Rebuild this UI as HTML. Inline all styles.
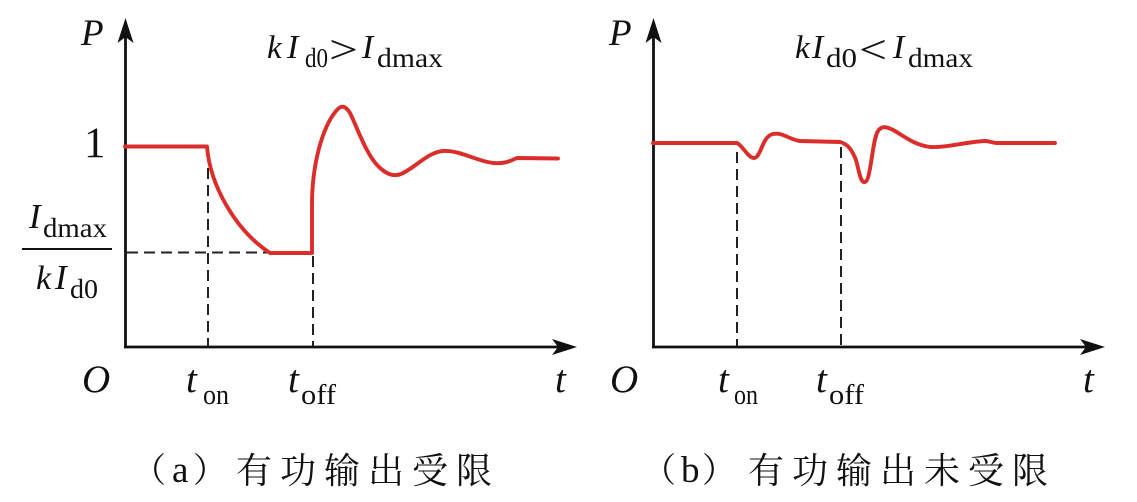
<!DOCTYPE html>
<html>
<head>
<meta charset="utf-8">
<style>
html,body{margin:0;padding:0;background:#fff;}
svg{display:block;}
.it{font-family:"Liberation Serif",serif;font-style:italic;fill:#111;}
.rm{font-family:"Liberation Serif",serif;fill:#111;}
.cj{font-family:"Noto Serif CJK SC","Noto Sans CJK SC",serif;fill:#111;}
</style>
</head>
<body>
<svg width="1137" height="502" viewBox="0 0 1137 502" xmlns="http://www.w3.org/2000/svg">
<rect width="1137" height="502" fill="#fff"/>

<!-- ============ LEFT PANEL ============ -->
<g stroke="#222" stroke-width="2" stroke-dasharray="11,6" fill="none">
  <line x1="127" y1="252.5" x2="270" y2="252.5"/>
  <line x1="208" y1="168" x2="208" y2="346"/>
  <line x1="313" y1="256" x2="313" y2="346"/>
</g>
<g stroke="#111" stroke-width="2.8" fill="none">
  <line x1="125.5" y1="36" x2="125.5" y2="347"/>
  <line x1="124" y1="347" x2="560" y2="347"/>
</g>
<path d="M125.5,18 L133.5,43 L125.5,37 L117.5,43 Z" fill="#111"/>
<path d="M577,347 L552,339 L558,347 L552,355 Z" fill="#111"/>

<path d="M125,146.5 L207,146.5 C210,185 235,230 270,253 L312,253 L312,205 C312,165 322,128 336,111 C341,105 345,105 350,113 C357,127 366,154 378,166 C386,174 393,177 401,174 C415,168 428,152 443,151 C460,150 476,161 493,163 C505,164 510,161 517,158 L558,158.5"
      fill="none" stroke="#db2e2a" stroke-width="3.9" stroke-linejoin="round" stroke-linecap="round"/>

<text class="it" x="81" y="45" font-size="37">P</text>
<text class="rm" x="84" y="157" font-size="43">1</text>

<!-- fraction -->
<text class="it" x="29" y="228" font-size="35">I</text>
<text class="rm" x="43" y="237" font-size="27" textLength="64" lengthAdjust="spacingAndGlyphs">dmax</text>
<line x1="22" y1="249" x2="112" y2="249" stroke="#111" stroke-width="2"/>
<text class="it" x="36" y="289" font-size="34">k</text>
<text class="it" x="55" y="289" font-size="35">I</text>
<text class="rm" x="70" y="298" font-size="27" textLength="28" lengthAdjust="spacingAndGlyphs">d0</text>

<text class="it" x="82" y="392" font-size="39">O</text>
<text class="it" x="186" y="392" font-size="39">t</text>
<text class="rm" x="203" y="404" font-size="28" textLength="26" lengthAdjust="spacingAndGlyphs">on</text>
<text class="it" x="288" y="392" font-size="39">t</text>
<text class="rm" x="301" y="404" font-size="28" textLength="35" lengthAdjust="spacingAndGlyphs">off</text>
<text class="it" x="555" y="392" font-size="39">t</text>

<!-- title a -->
<text class="it" x="267" y="58" font-size="33">k</text>
<text class="it" x="287" y="58" font-size="34">I</text>
<text class="rm" x="305" y="67" font-size="27" textLength="23" lengthAdjust="spacingAndGlyphs">d0</text>
<text class="rm" x="329" y="63" font-size="40" textLength="29" lengthAdjust="spacingAndGlyphs">&gt;</text>
<text class="it" x="362" y="58" font-size="34">I</text>
<text class="rm" x="377" y="67" font-size="27" textLength="66" lengthAdjust="spacingAndGlyphs">dmax</text>

<!-- caption a -->
<text class="cj" x="132" y="482" font-size="34">（</text>
<text class="rm" x="172" y="482" font-size="37">a</text>
<text class="cj" x="193" y="482" font-size="34">）</text>
<text class="cj" y="483" font-size="36" x="236 280 324 368 412 456">有功输出受限</text>

<!-- ============ RIGHT PANEL ============ -->
<g stroke="#222" stroke-width="2" stroke-dasharray="11,6" fill="none">
  <line x1="737" y1="152" x2="737" y2="346"/>
  <line x1="841" y1="147" x2="841" y2="346"/>
</g>
<g stroke="#111" stroke-width="2.8" fill="none">
  <line x1="653.5" y1="36" x2="653.5" y2="347"/>
  <line x1="652" y1="347" x2="1088" y2="347"/>
</g>
<path d="M653.5,18 L661.5,43 L653.5,37 L645.5,43 Z" fill="#111"/>
<path d="M1105,347 L1080,339 L1086,347 L1080,355 Z" fill="#111"/>

<path d="M653,143 L737,143 C743,146 748,158 754,158 C761,158 762,136 773,134 C783,132 790,140 800,141 L840,142 C848,144 852,150 856,160 C859,170 860,183 865,182 C871,181 872,140 878,131 C882,125 888,127 895,131 C905,137 915,145 930,147 C945,148 965,142 985,141 C990,141 992,143 997,143 L1055,143"
      fill="none" stroke="#db2e2a" stroke-width="3.9" stroke-linejoin="round" stroke-linecap="round"/>

<text class="it" x="609" y="45" font-size="37">P</text>
<text class="it" x="610" y="392" font-size="39">O</text>
<text class="it" x="718" y="392" font-size="39">t</text>
<text class="rm" x="734" y="404" font-size="28" textLength="24" lengthAdjust="spacingAndGlyphs">on</text>
<text class="it" x="816" y="392" font-size="39">t</text>
<text class="rm" x="829" y="404" font-size="28" textLength="35" lengthAdjust="spacingAndGlyphs">off</text>
<text class="it" x="1083" y="392" font-size="39">t</text>

<!-- title b -->
<text class="it" x="795" y="58" font-size="33">k</text>
<text class="it" x="812" y="58" font-size="34">I</text>
<text class="rm" x="826" y="67" font-size="27" textLength="31" lengthAdjust="spacingAndGlyphs">d0</text>
<text class="rm" x="859" y="63" font-size="40" textLength="28" lengthAdjust="spacingAndGlyphs">&lt;</text>
<text class="it" x="893" y="58" font-size="34">I</text>
<text class="rm" x="908" y="67" font-size="27" textLength="65" lengthAdjust="spacingAndGlyphs">dmax</text>

<!-- caption b -->
<text class="cj" x="642" y="482" font-size="34">（</text>
<text class="rm" x="681" y="482" font-size="37">b</text>
<text class="cj" x="702" y="482" font-size="34">）</text>
<text class="cj" y="483" font-size="36" x="748 792 836 880 924 968 1012">有功输出未受限</text>
</svg>
</body>
</html>
